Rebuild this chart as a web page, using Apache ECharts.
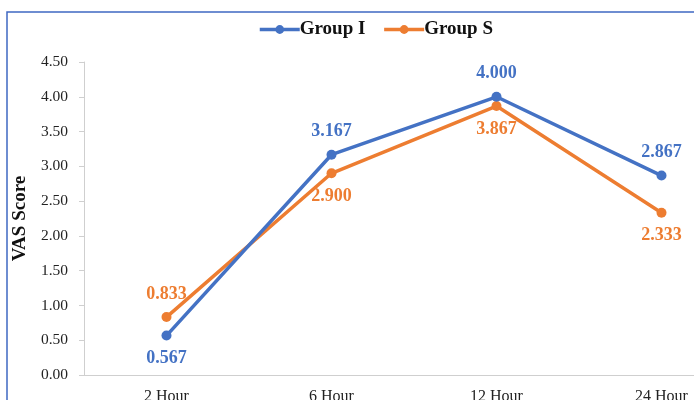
<!DOCTYPE html>
<html>
<head>
<meta charset="utf-8">
<script src="https://cdn.jsdelivr.net/npm/echarts@6/dist/echarts.min.js"></script>
<style>
  html, body { margin: 0; padding: 0; background: #fff; overflow: hidden; }
  #frame { width: 694px; height: 400px; overflow: hidden; }
  #chart { width: 760px; height: 400px; }
</style>
</head>
<body>
<div id="frame"><div id="chart"></div></div>
<script>
// Time points after surgery
const timePoints = ['2 Hour', '6 Hour', '12 Hour', '24 Hour'];
// Mean VAS score per group
const groupI = [0.567, 3.167, 4.000, 2.867];
const groupS = [0.833, 2.900, 3.867, 2.333];
// Where each value label sits relative to its point
const groupIPos = ['bottom', 'top', 'top', 'top'];
const groupSPos = ['top', 'bottom', 'bottom', 'bottom'];

const BLUE = '#4472C4';
const ORANGE = '#ED7D31';
const SERIF = '"Liberation Serif", "Times New Roman", serif';

function withLabels(values, positions) {
  return values.map((v, i) => ({
    value: v,
    label: { position: positions[i] }
  }));
}

const chart = echarts.init(document.getElementById('chart'));
chart.setOption({
  animation: false,
  backgroundColor: '#fff',
  graphic: [{
    type: 'rect',
    shape: { x: 7, y: 12, width: 800, height: 480 },
    style: { fill: 'none', stroke: '#3f68c2', lineWidth: 1.5 },
    silent: true,
    z: 100
  }],
  legend: {
    top: 15,
    left: 253,
    itemGap: 17,
    itemWidth: 40,
    itemHeight: 11,
    lineStyle: { width: 3.5 },
    textStyle: {
      fontFamily: SERIF, fontWeight: 'bold', fontSize: 19, color: '#111',
      padding: [0, 0, 0, -5]
    },
    data: ['Group I', 'Group S']
  },
  grid: { left: 84, top: 62, width: 660, height: 313, outerBoundsMode: 'none', containLabel: false },
  xAxis: {
    type: 'category',
    data: timePoints,
    boundaryGap: true,
    axisLine: { lineStyle: { color: '#cfcfcf', width: 1 } },
    axisTick: { show: false },
    axisLabel: { fontFamily: SERIF, fontSize: 16, color: '#222', margin: 14 }
  },
  yAxis: {
    type: 'value',
    min: 0,
    max: 4.5,
    interval: 0.5,
    name: 'VAS Score',
    nameLocation: 'middle',
    nameGap: 45,
    nameTextStyle: { fontFamily: SERIF, fontWeight: 'bold', fontSize: 19, color: '#111' },
    axisLine: { show: true, lineStyle: { color: '#cfcfcf', width: 1 } },
    axisTick: { show: true, length: 5, lineStyle: { color: '#cfcfcf' } },
    splitLine: { show: false },
    axisLabel: {
      fontFamily: SERIF, fontSize: 15.5, color: '#222', margin: 16,
      formatter: v => v.toFixed(2)
    }
  },
  series: [
    {
      name: 'Group I',
      type: 'line',
      data: withLabels(groupI, groupIPos),
      color: BLUE,
      symbol: 'circle',
      symbolSize: 10,
      lineStyle: { width: 3.5 },
      label: {
        show: true, distance: 9,
        fontFamily: SERIF, fontWeight: 'bold', fontSize: 18, color: BLUE,
        formatter: p => p.value.toFixed(3)
      },
      z: 3
    },
    {
      name: 'Group S',
      type: 'line',
      data: withLabels(groupS, groupSPos),
      color: ORANGE,
      symbol: 'circle',
      symbolSize: 10,
      lineStyle: { width: 3.5 },
      label: {
        show: true, distance: 9,
        fontFamily: SERIF, fontWeight: 'bold', fontSize: 18, color: ORANGE,
        formatter: p => p.value.toFixed(3)
      },
      z: 2
    }
  ]
});
</script>
</body>
</html>
